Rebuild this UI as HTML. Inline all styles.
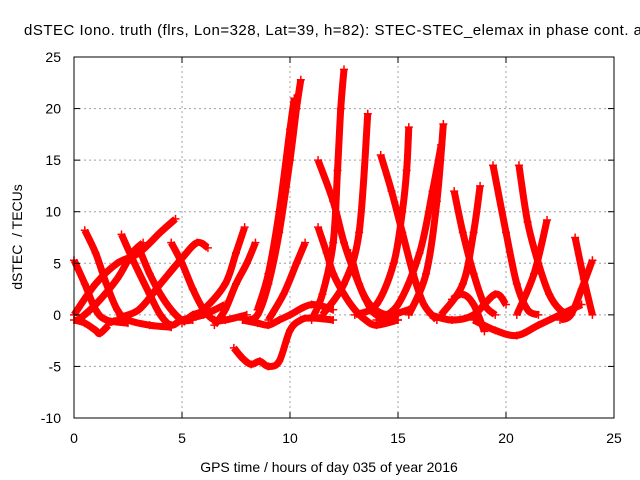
<!DOCTYPE html>
<html><head><meta charset="utf-8"><style>
body{margin:0;background:#fff}
svg{display:block;font-family:"Liberation Sans",sans-serif}
</style></head><body>
<svg id="chart" width="640" height="480">
<text x="24" y="35" font-size="15" textLength="618" lengthAdjust="spacing" fill="#000">dSTEC Iono. truth (flrs, Lon=328, Lat=39, h=82): STEC-STEC_elemax in phase cont. a</text>
<text transform="translate(22,237) rotate(-90)" text-anchor="middle" font-size="14" xml:space="preserve">dSTEC  / TECUs</text>
<text x="329" y="472" text-anchor="middle" font-size="14">GPS time / hours of day 035 of year 2016</text>
<g id="grid"></g><g id="marks"></g><g id="axes"></g>
</svg>
<script>
const xTicks=[0,5,10,15,20,25];
const yTicks=[-10,-5,0,5,10,15,20,25];
const passA=[[0,5.3],[0.5,3],[1,0.5],[1.5,-0.5],[2.5,-0.8]];
const passB=[[0.5,8.2],[1,6],[1.5,3],[2,0.5],[2.5,-0.5],[3.5,-1],[4.5,-1.2]];
const passC=[[0,-0.5],[0.5,-0.8],[1,-1.5],[1.2,-1.8],[1.6,-1]];
const passD=[[0,0],[1,3],[2,5],[3,6],[4,8],[4.7,9.3]];
const passE=[[2.2,7.8],[2.8,5],[3.5,2],[4,0],[4.5,-1],[5,-0.5],[6,0],[7,1]];
const passF=[[0.2,-0.5],[1,1],[2,3.5],[2.7,6],[3.2,7]];
const passG=[[3,6.5],[3.5,4],[4,2],[4.5,0.5],[5,-0.5],[5.5,-0.5]];
const passH=[[2,-0.3],[3,0.5],[4,3],[5,5.5],[5.7,7],[6.2,6.5]];
const passI=[[4.5,7],[5,5],[5.5,2.5],[6,0.5],[6.5,-0.5],[7,-0.5],[8,0]];
const passJ=[[5,-0.8],[5.5,0],[6,0.5],[7,3],[7.5,6],[7.9,8.5]];
const passK=[[6.5,-1],[7,0.5],[7.5,3],[8,5],[8.4,7]];
const passL=[[7.4,-3.2],[7.8,-4.2],[8.2,-4.8],[8.6,-4.5],[9,-5],[9.5,-4.5],[10,-1.5],[10.5,-0.5],[11,-0.3],[12,-0.5]];
const passM=[[8,-0.5],[8.5,0],[9,3],[9.5,8],[10,15],[10.3,20],[10.5,22.8]];
const passM2=[[8.5,0.5],[9,4],[9.5,10],[10,18],[10.2,21]];
const passN=[[9,-0.5],[9.7,2],[10.3,5],[10.7,7]];
const passO=[[7.8,-0.5],[8.5,-0.8],[9,-1],[9.5,-0.5],[10,0],[11,1],[12,0.5]];
const passP=[[11.3,8.5],[11.7,6],[12,4],[12.5,2],[13,0.5],[13.5,-0.5],[14,-1],[15,-0.5]];
const passQ=[[11.3,15],[12,11],[12.5,7],[13,4],[13.5,1.5],[14,0],[15,-0.5]];
const passR=[[11,-0.5],[11.5,2],[12,7],[12.2,14],[12.35,20],[12.5,23.8]];
const passS=[[11.5,0],[12.5,3],[13.2,8],[13.6,19.5]];
const passT=[[12.8,6],[13.2,3],[13.7,1],[14.5,0],[15.5,0.5]];
const passU=[[14.2,15.5],[14.7,12],[15.2,8],[15.7,4],[16.2,1],[16.8,-0.5]];
const passV=[[13,0],[14,1],[14.8,5],[15.2,10],[15.4,14],[15.5,18.2]];
const passW=[[14,-0.5],[15,1],[16,6],[16.6,12],[17,16.5]];
const passX=[[15.5,0],[16.3,4],[16.8,11],[17.1,18.5]];
const passY=[[17.6,12],[18,8],[18.5,4],[19,1],[19.5,0]];
const passZ=[[17,0],[18,3],[18.5,8],[18.8,12.5]];
const passAA=[[19.4,14.5],[20,8],[20.5,3],[21,0.5],[21.5,0]];
const passAB=[[20.6,14.5],[21,9],[21.5,5],[22,2],[22.5,0.5],[23,0]];
const passAC=[[20.5,0],[21.3,4],[21.9,9.2]];
const passAD=[[23.2,7.5],[23.6,3.5],[24,0]];
const passAE=[[22.5,-0.5],[23,0],[23.5,2.5],[24,5.3]];
const passAF=[[18.5,-0.5],[19.5,-1.5],[20.5,-2],[21.5,-1],[22.5,0],[23.5,1]];
const passAG=[[17.5,1.5],[18,2],[18.5,1],[19,-1.6]];
const passAH=[[16.5,0],[17.5,-0.5],[18.5,0],[19.5,2],[20,1]];
const passes=[passA,passB,passC,passD,passE,passF,passG,passH,passI,passJ,passK,passL,passM,passM2,passN,passO,passP,passQ,passR,passS,passT,passU,passV,passW,passX,passY,passZ,passAA,passAB,passAC,passAD,passAE,passAF,passAG,passAH];

const X0=74,X1=614,Y0=418,Y1=57,XMIN=0,XMAX=25,YMIN=-10,YMAX=25;
const sx=t=>X0+(t-XMIN)/(XMAX-XMIN)*(X1-X0);
const sy=v=>Y0-(v-YMIN)/(YMAX-YMIN)*(Y0-Y1);
const NS="http://www.w3.org/2000/svg";
const mk=(tag,at,parent)=>{const e=document.createElementNS(NS,tag);for(const k in at)e.setAttribute(k,at[k]);parent.appendChild(e);return e;};
const grid=document.getElementById('grid'),marks=document.getElementById('marks'),axes=document.getElementById('axes');
xTicks.forEach(t=>{
  if(t>XMIN&&t<XMAX){const g=mk('line',{x1:sx(t),x2:sx(t),y1:Y0,y2:Y1,stroke:'#a0a0a0','stroke-dasharray':'2,3'},grid);
  
  }
  const l=mk('text',{x:sx(t),y:Y0+25,'text-anchor':'middle','font-size':14},axes);l.textContent=t;
  
  
  mk('line',{x1:sx(t),x2:sx(t),y1:Y0,y2:Y0-6,stroke:'#000'},axes);
  mk('line',{x1:sx(t),x2:sx(t),y1:Y1,y2:Y1+6,stroke:'#000'},axes);
});
yTicks.forEach(v=>{
  if(v>YMIN&&v<YMAX){const g=mk('line',{x1:X0,x2:X1,y1:sy(v),y2:sy(v),stroke:'#a0a0a0','stroke-dasharray':'2,3'},grid);
  
  }
  const l=mk('text',{x:X0-13,y:sy(v)+5,'text-anchor':'end','font-size':14},axes);l.textContent=v;
  
  
  mk('line',{x1:X0,x2:X0+6,y1:sy(v),y2:sy(v),stroke:'#000'},axes);
  mk('line',{x1:X1,x2:X1-6,y1:sy(v),y2:sy(v),stroke:'#000'},axes);
});
const fr=mk('rect',{x:X0,y:Y1,width:X1-X0,height:Y0-Y1,fill:'none',stroke:'#000'},axes);


function smooth(pts){
  let d='M'+pts[0][0]+','+pts[0][1];
  for(let i=0;i<pts.length-1;i++){
    const p0=pts[Math.max(0,i-1)],p1=pts[i],p2=pts[i+1],p3=pts[Math.min(pts.length-1,i+2)];
    const c1x=p1[0]+(p2[0]-p0[0])/6,c1y=p1[1]+(p2[1]-p0[1])/6;
    const c2x=p2[0]-(p3[0]-p1[0])/6,c2y=p2[1]-(p3[1]-p1[1])/6;
    d+=`C${c1x},${c1y} ${c2x},${c2y} ${p2[0]},${p2[1]}`;
  }
  return d;
}
passes.forEach(p=>{
  const pts=p.map(d=>[sx(d[0]),sy(d[1])]);
  const pl=mk('path',{d:smooth(pts),fill:'none',stroke:'#f00','stroke-width':7,'stroke-linejoin':'round','stroke-linecap':'butt'},marks);
  
  
  p.forEach(d=>{
    const x=sx(d[0]),y=sy(d[1]);
    const m=mk('path',{d:`M${x-4},${y}H${x+4}M${x},${y-4}V${y+4}`,stroke:'#f00','stroke-width':1.5},marks);
    
    
  });
});
</script>
</body></html>
